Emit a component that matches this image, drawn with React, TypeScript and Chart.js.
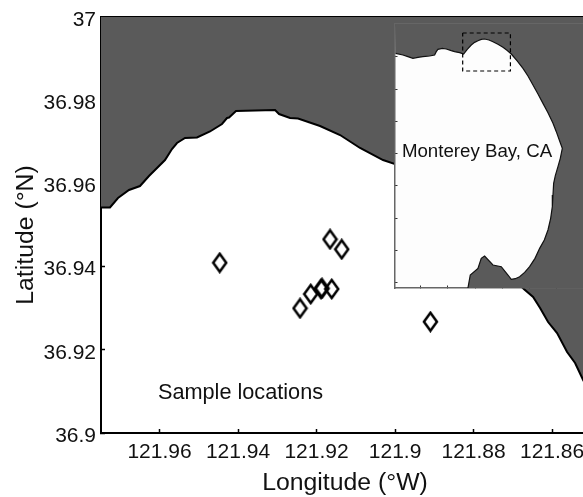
import React, { useEffect, useRef } from "react";
import { Chart, registerables } from "chart.js";

Chart.register(...registerables);

const FONT = '"Liberation Sans", Arial, sans-serif';
const LAND = "#5a5a5a";

const lonTicks = [121.96, 121.94, 121.92, 121.9, 121.88, 121.86];
const latTicks = [36.9, 36.92, 36.94, 36.96, 36.98, 37];

const sampleLon = [121.94466, 121.91656, 121.91358, 121.9242, 121.92148, 121.91885, 121.9186, 121.91613, 121.891];
const sampleLat = [36.94094, 36.94656, 36.94416, 36.92998, 36.93341, 36.93462, 36.93478, 36.93462, 36.92675];

const coastLon = [121.9749, 121.97261, 121.97057, 121.96777, 121.96497, 121.96268, 121.9586, 121.95682, 121.95554, 121.9535, 121.95045, 121.94713, 121.94408, 121.9428, 121.94229, 121.94051, 121.93057, 121.92955, 121.92675, 121.92471, 121.91911, 121.91401, 121.90892, 121.90306, 121.9, 121.86713, 121.86484, 121.86306, 121.86102, 121.85873, 121.85618, 121.85414, 121.8521, 121.8506];
const coastLat = [36.95421, 36.95421, 36.95649, 36.95841, 36.95937, 36.96178, 36.96562, 36.96827, 36.96971, 36.97091, 36.97103, 36.97248, 36.97428, 36.97572, 36.97584, 36.9774, 36.97764, 36.97668, 36.97572, 36.9756, 36.9738, 36.97163, 36.96851, 36.96562, 36.96466, 36.93454, 36.93269, 36.93005, 36.92668, 36.92404, 36.91947, 36.91683, 36.91274, 36.9101];

const bayLon = [122.1475, 122.1286, 122.1158, 122.1029, 122.09, 122.0772, 122.06, 122.0471, 122.0429, 122.0386, 122.0274, 122.0171, 122.0043, 121.9957, 121.9828, 121.9725, 121.9631, 121.9528, 121.9442, 121.9356, 121.9271, 121.9185, 121.9073, 121.897, 121.8842, 121.8713, 121.861, 121.8499, 121.8353, 121.8198, 121.807, 121.7941, 121.7812, 121.7684, 121.7555, 121.7426, 121.7341, 121.7255, 121.7186, 121.7238, 121.7298, 121.7366, 121.7409, 121.7426, 121.7443, 121.7486, 121.7555, 121.7649, 121.7769, 121.7889, 121.8027, 121.8155, 121.8284, 121.8396, 121.8499, 121.8584, 121.8756, 121.897, 121.9185, 121.9271, 121.9356, 121.9554, 121.9614];
const bayLat = [36.9465, 36.9421, 36.9377, 36.9333, 36.936, 36.9377, 36.9395, 36.9421, 36.9509, 36.957, 36.9596, 36.9579, 36.9535, 36.9509, 36.9482, 36.9447, 36.957, 36.9684, 36.9754, 36.9798, 36.9833, 36.9842, 36.9816, 36.9772, 36.9702, 36.9623, 36.9544, 36.9447, 36.9272, 36.907, 36.8868, 36.8632, 36.8395, 36.8149, 36.7904, 36.7623, 36.7404, 36.7158, 36.6965, 36.6702, 36.6482, 36.6246, 36.6044, 36.5737, 36.543, 36.5123, 36.4816, 36.4553, 36.4333, 36.407, 36.3851, 36.3702, 36.3588, 36.3535, 36.3518, 36.3632, 36.3851, 36.3895, 36.4132, 36.407, 36.3807, 36.3632, 36.329];

const insetLonTicks = [122.083, 122.013, 121.943, 121.873, 121.803, 121.733];
const insetLatTicks = [37.02, 36.9376, 36.8526, 36.7676, 36.6826, 36.5976, 36.5126, 36.4276, 36.3426];

const zip = (xs: number[], ys: number[]) => xs.map((x, i) => ({ x, y: ys[i] }));

const MAIN = { lonMin: 121.8506, lonMax: 121.9749, latMin: 36.9, latMax: 37 };
const BOX = { lonMin: 121.8521, lonMax: 121.9749, latMin: 36.9, latMax: 37 };
const INSET = { lonMin: 121.6654, lonMax: 122.149, latMin: 36.329, latMax: 37.0237 };

function diamond(): HTMLCanvasElement {
  const c = document.createElement("canvas");
  c.width = 17;
  c.height = 22;
  const g = c.getContext("2d")!;
  g.strokeStyle = "#000";
  g.lineWidth = 2.5;
  g.lineJoin = "miter";
  g.beginPath();
  g.moveTo(8.5, 2);
  g.lineTo(15, 11);
  g.lineTo(8.5, 20);
  g.lineTo(2, 11);
  g.closePath();
  g.stroke();
  return c;
}

const tickFix = (values: number[]) => (scale: any) => {
  scale.ticks = values.map((value) => ({ value }));
};

// Nudges a scale's label or title drawing by a few pixels.
const nudge = (scale: any, method: string, dx: number, dy: number) => {
  if (scale["__" + method]) return;
  const original = scale[method];
  scale["__" + method] = true;
  scale[method] = function (...args: any[]) {
    const ctx = scale.ctx;
    ctx.save();
    ctx.translate(dx, dy);
    original.apply(scale, args);
    ctx.restore();
  };
};

export default function App() {
  const mainRef = useRef<HTMLCanvasElement>(null);
  const insetRef = useRef<HTMLCanvasElement>(null);

  useEffect(() => {
    const textPlugin = (items: { text: string; lon: number; lat: number; size: number; align: CanvasTextAlign }[]) => ({
      id: "labels",
      afterDatasetsDraw(chart: any) {
        const { ctx, scales } = chart;
        ctx.save();
        ctx.fillStyle = "#111";
        ctx.textBaseline = "middle";
        for (const it of items) {
          ctx.font = `${it.size}px ${FONT}`;
          ctx.textAlign = it.align;
          ctx.fillText(it.text, scales.x.getPixelForValue(it.lon), scales.y.getPixelForValue(it.lat));
        }
        ctx.restore();
      },
    });

    const main = new Chart(mainRef.current!, {
      type: "scatter",
      data: {
        datasets: [
          {
            data: zip(coastLon, coastLat),
            showLine: true,
            fill: "end",
            backgroundColor: LAND,
            borderColor: "#000",
            borderWidth: 2,
            pointRadius: 0,
            tension: 0,
            order: 2,
          },
          {
            data: zip(sampleLon, sampleLat),
            showLine: false,
            pointStyle: diamond() as any,
            pointRadius: 8,
            order: 1,
          },
        ],
      } as any,
      plugins: [textPlugin([{ text: "Sample locations", lon: 121.9604, lat: 36.9095, size: 21.7, align: "left" }])],
      options: {
        animation: false,
        responsive: false,
        layout: { padding: { left: 0, top: 17, right: 31, bottom: 0 } },
        plugins: { legend: { display: false }, tooltip: { enabled: false } },
        scales: {
          x: {
            type: "linear",
            reverse: true,
            min: MAIN.lonMin,
            max: MAIN.lonMax,
            position: "bottom",
            afterBuildTicks: tickFix(lonTicks),
            afterFit: (s: any) => {
              s.height = 64;
              s.paddingLeft = 0;
              s.paddingRight = 0;
              nudge(s, "drawTitle", 0, 1);
            },
            grid: { drawOnChartArea: false, tickLength: -4, tickColor: "#000", tickWidth: 1.5 },
            border: { width: 2, color: "#000" },
            ticks: {
              autoSkip: false,
              maxRotation: 0,
              padding: 11,
              color: "#111",
              font: { family: FONT, size: 21 },
              callback: (v: any) => String(v),
            },
            title: { display: true, text: "Longitude (°W)", color: "#111", font: { family: FONT, size: 24.8 }, padding: { top: 0, bottom: 0 } },
          },
          xTop: {
            type: "linear",
            axis: "x",
            reverse: true,
            min: MAIN.lonMin,
            max: MAIN.lonMax,
            position: "top",
            afterBuildTicks: tickFix(lonTicks),
            afterFit: (s: any) => {
              s.height = 0;
              s.paddingLeft = 0;
              s.paddingRight = 0;
            },
            grid: { drawOnChartArea: false, tickLength: -4, tickColor: "#000", tickWidth: 1.5 },
            border: { width: 2, color: "#000" },
            ticks: { display: false, autoSkip: false },
          },
          y: {
            type: "linear",
            min: MAIN.latMin,
            max: MAIN.latMax,
            position: "left",
            afterBuildTicks: tickFix(latTicks),
            afterFit: (s: any) => {
              s.width = 101;
              s.paddingTop = 0;
              s.paddingBottom = 0;
              nudge(s, "drawLabels", 0, 3);
              nudge(s, "drawTitle", -1.5, 10);
            },
            grid: { drawOnChartArea: false, tickLength: -4, tickColor: "#000", tickWidth: 1.5 },
            border: { width: 2, color: "#000" },
            ticks: {
              autoSkip: false,
              padding: 9,
              color: "#111",
              font: { family: FONT, size: 21 },
              callback: (v: any) => String(v),
            },
            title: { display: true, text: "Latitude (°N)", color: "#111", font: { family: FONT, size: 24.8 }, padding: { top: 13, bottom: 0 } },
          },
        },
      } as any,
    });

    const insetScale = (extra: any) => ({
      type: "linear",
      grid: { drawOnChartArea: false, tickLength: -2.5, tickColor: "#333", tickWidth: 1 },
      border: { width: 1.5, color: "#666" },
      ...extra,
    });

    const inset = new Chart(insetRef.current!, {
      type: "scatter",
      data: {
        datasets: [
          {
            data: [
              { x: BOX.lonMax, y: BOX.latMax },
              { x: BOX.lonMin, y: BOX.latMax },
              { x: BOX.lonMin, y: BOX.latMin },
              { x: BOX.lonMax, y: BOX.latMin },
              { x: BOX.lonMax, y: BOX.latMax },
            ],
            showLine: true,
            fill: false,
            borderColor: "#000",
            borderWidth: 1.2,
            borderDash: [4, 3],
            pointRadius: 0,
            tension: 0,
            order: 1,
          },
          {
            data: zip(bayLon, bayLat),
            showLine: true,
            fill: false,
            borderColor: "#111",
            borderWidth: 1.2,
            pointRadius: 0,
            tension: 0,
            order: 2,
          },
          {
            data: [
              ...zip(bayLon, bayLat),
              { x: INSET.lonMin, y: INSET.latMin },
              { x: INSET.lonMin, y: INSET.latMax },
              { x: INSET.lonMax, y: INSET.latMax },
              { x: INSET.lonMax, y: bayLat[0] },
              { x: bayLon[0], y: bayLat[0] },
            ],
            showLine: true,
            fill: "shape",
            backgroundColor: LAND,
            borderWidth: 0,
            pointRadius: 0,
            tension: 0,
            order: 3,
          },
        ],
      } as any,
      plugins: [
        {
          id: "insetBg",
          beforeDraw(chart: any) {
            const { ctx, chartArea: a } = chart;
            ctx.save();
            ctx.fillStyle = "#fdfdfd";
            ctx.fillRect(a.left, a.top, a.right - a.left, a.bottom - a.top);
            ctx.restore();
          },
        },
        textPlugin([{ text: "Monterey Bay, CA", lon: 121.938, lat: 36.687, size: 18.7, align: "center" }]),
      ],
      options: {
        animation: false,
        responsive: false,
        layout: { padding: { left: 1, top: 1, right: 0, bottom: 1 } },
        plugins: { legend: { display: false }, tooltip: { enabled: false } },
        scales: {
          x: insetScale({
            reverse: true,
            min: INSET.lonMin,
            max: INSET.lonMax,
            position: "bottom",
            afterBuildTicks: tickFix(insetLonTicks),
            afterFit: (s: any) => {
              s.height = 0;
              s.paddingLeft = 0;
              s.paddingRight = 0;
            },
            ticks: { display: false, autoSkip: false },
          }),
          xTop: insetScale({
            axis: "x",
            reverse: true,
            min: INSET.lonMin,
            max: INSET.lonMax,
            position: "top",
            afterBuildTicks: tickFix(insetLonTicks),
            afterFit: (s: any) => {
              s.height = 0;
              s.paddingLeft = 0;
              s.paddingRight = 0;
            },
            ticks: { display: false, autoSkip: false },
          }),
          y: insetScale({
            min: INSET.latMin,
            max: INSET.latMax,
            position: "left",
            afterBuildTicks: tickFix(insetLatTicks),
            afterFit: (s: any) => {
              s.width = 0;
              s.paddingTop = 0;
              s.paddingBottom = 0;
            },
            ticks: { display: false, autoSkip: false },
          }),
        },
      } as any,
    });

    return () => {
      main.destroy();
      inset.destroy();
    };
  }, []);

  return (
    <div style={{ position: "fixed", left: 0, top: 0, width: 583, height: 497, background: "#fff", overflow: "hidden" }}>
      <canvas ref={mainRef} width={620} height={497} style={{ position: "absolute", left: 0, top: 0 }} />
      <canvas ref={insetRef} width={189} height={266} style={{ position: "absolute", left: 394, top: 23 }} />
    </div>
  );
}
